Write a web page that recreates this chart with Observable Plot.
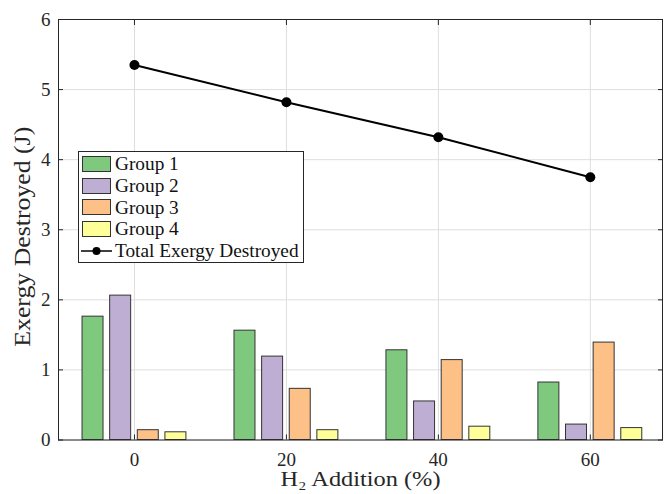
<!DOCTYPE html>
<html>
<head>
<meta charset="utf-8">
<script src="https://cdn.jsdelivr.net/npm/d3@7"></script>
<script src="https://cdn.jsdelivr.net/npm/@observablehq/plot@0.6"></script>
<style>
  html, body { margin: 0; padding: 0; background: #fff; }
  #wrap { position: relative; width: 664px; height: 494px; overflow: hidden; }
  #legend {
    position: absolute; left: 78px; top: 151px; width: 226px; height: 112px;
    box-sizing: border-box; border: 1px solid #262626; background: #fff;
    font-family: "Liberation Serif", serif; font-size: 19.3px; color: #111;
    padding-top: 1px;
  }
  .row { height: 21.8px; display: flex; align-items: center; }
  .sw { width: 29px; height: 16px; margin-left: 3px; margin-right: 4px; box-sizing: border-box; border: 1px solid #333; }
  .ln { width: 31px; height: 16px; margin-left: 2px; margin-right: 3px; }
</style>
</head>
<body>
<div id="wrap"><div id="chart"></div><div id="legend"></div></div>
<script>
// ---- data ----
const additions = [0, 20, 40, 60];
const groupNames = ["Group 1", "Group 2", "Group 3", "Group 4"];
const group1 = [1.76, 1.56, 1.28, 0.82];
const group2 = [2.06, 1.19, 0.55, 0.22];
const group3 = [0.14, 0.73, 1.14, 1.39];
const group4 = [0.11, 0.14, 0.19, 0.17];
const totalExergy = [5.35, 4.82, 4.32, 3.75];
const yTicks = [0, 1, 2, 3, 4, 5, 6];
const groupColors = ["#7fc97f", "#beaed4", "#fdc086", "#ffff99"];
const lineName = "Total Exergy Destroyed";
const xLabel = "H₂ Addition (%)";
const yLabel = "Exergy Destroyed (J)";

// ---- derived tables ----
const series = [group1, group2, group3, group4];
const slot = 20 * (4 / 5.5) / 4;   // grouped-bar slot width (data units)
const barW = slot * 0.76;
const bars = [];
series.forEach((vals, gi) => vals.forEach((v, i) => {
  bars.push({ x: additions[i], gi, group: groupNames[gi], value: v, off: (gi - 1.5) * slot });
}));
const totals = additions.map((x, i) => ({ x, value: totalExergy[i] }));

const plot = Plot.plot({
  width: 664, height: 494,
  marginLeft: 58, marginRight: 2, marginTop: 19, marginBottom: 54.5,
  style: { fontFamily: "Liberation Serif, serif", fontSize: "19px", color: "#262626", background: "#fff", overflow: "visible" },
  x: { type: "linear", domain: [-10, 69.5], label: null },
  y: { domain: [0, 6], label: null },
  color: { domain: groupNames, range: groupColors },
  marks: [
    Plot.gridX(additions, { stroke: "#dedede", strokeOpacity: 1 }),
    Plot.gridY(yTicks, { stroke: "#dedede", strokeOpacity: 1 }),
    Plot.rect(bars, {
      x1: d => d.x + d.off - barW / 2, x2: d => d.x + d.off + barW / 2,
      y1: 0, y2: "value", fill: "group", stroke: "#333", strokeWidth: 1
    }),
    Plot.frame({ stroke: "#262626", strokeWidth: 1 }),
    // tick labels
    Plot.axisX(additions, { anchor: "bottom", tickSize: 0, tickPadding: 12, label: null, fontSize: 19, tickFormat: d => String(d) }),
    Plot.axisY(yTicks, { anchor: "left", tickSize: 0, tickPadding: 8, label: null, fontSize: 19, tickFormat: d => String(d) }),
    // inward ticks on all four sides
    Plot.axisX(additions, { anchor: "bottom", tickSize: -5, tickFormat: () => "", label: null, stroke: "#262626" }),
    Plot.axisX(additions, { anchor: "top", tickSize: -5, tickFormat: () => "", label: null, stroke: "#262626" }),
    Plot.axisY(yTicks, { anchor: "left", tickSize: -5, tickFormat: () => "", label: null, stroke: "#262626" }),
    Plot.axisY(yTicks, { anchor: "right", tickSize: -5, tickFormat: () => "", label: null, stroke: "#262626" }),
    // axis titles
    Plot.text([xLabel], { frameAnchor: "bottom", textAnchor: "middle", lineAnchor: "bottom", dy: 46, fontSize: 21, fill: "#262626", text: d => d, className: "xlab" }),
    Plot.text([yLabel], { frameAnchor: "left", textAnchor: "middle", lineAnchor: "middle", dx: -36, dy: 7, rotate: -90, fontSize: 23, fill: "#262626", text: d => d, className: "ylab" }),
    // total line
    Plot.line(totals, { x: "x", y: "value", stroke: "#000", strokeWidth: 2 }),
    Plot.dot(totals, { x: "x", y: "value", r: 5, fill: "#000" })
  ]
});
document.getElementById("chart").appendChild(plot);

// stretch axis titles to the widths seen in the reference
const xl = plot.querySelector(".xlab text");
if (xl) { xl.setAttribute("textLength", 160); xl.setAttribute("lengthAdjust", "spacingAndGlyphs"); }
const yl = plot.querySelector(".ylab text");
if (yl) { yl.setAttribute("textLength", 220); yl.setAttribute("lengthAdjust", "spacingAndGlyphs"); }

// legend
const leg = document.getElementById("legend");
groupNames.forEach((name, i) => {
  const r = document.createElement("div"); r.className = "row";
  const s = document.createElement("div"); s.className = "sw"; s.style.background = groupColors[i];
  const t = document.createElement("span"); t.textContent = name;
  r.appendChild(s); r.appendChild(t); leg.appendChild(r);
});
{
  const r = document.createElement("div"); r.className = "row";
  const svgNS = "http://www.w3.org/2000/svg";
  const s = document.createElementNS(svgNS, "svg");
  s.setAttribute("class", "ln"); s.setAttribute("width", 31); s.setAttribute("height", 16);
  const l = document.createElementNS(svgNS, "line");
  l.setAttribute("x1", 0); l.setAttribute("x2", 31); l.setAttribute("y1", 8); l.setAttribute("y2", 8);
  l.setAttribute("stroke", "#000"); l.setAttribute("stroke-width", 1.5);
  const c = document.createElementNS(svgNS, "circle");
  c.setAttribute("cx", 15.5); c.setAttribute("cy", 8); c.setAttribute("r", 4); c.setAttribute("fill", "#000");
  s.appendChild(l); s.appendChild(c);
  const t = document.createElement("span"); t.textContent = lineName;
  r.appendChild(s); r.appendChild(t); leg.appendChild(r);
}
</script>
</body>
</html>
